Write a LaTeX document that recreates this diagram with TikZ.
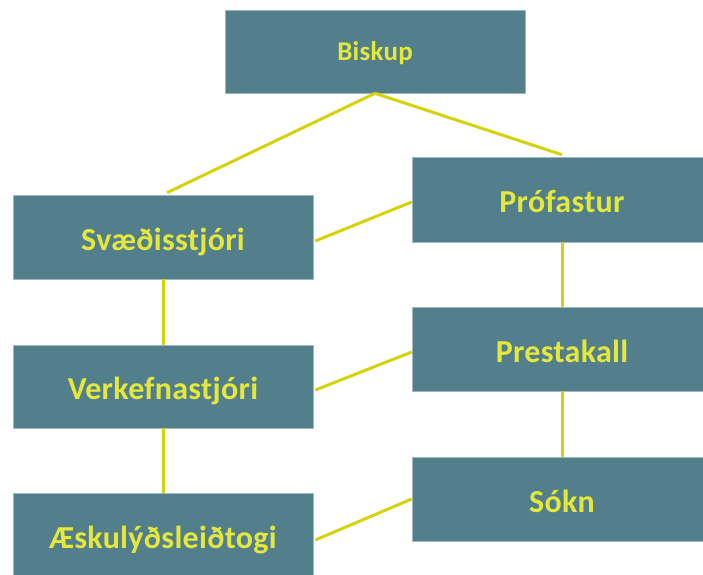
\documentclass[tikz,border=0pt]{standalone}
\usepackage{fontspec}
\setmainfont{Carlito}[LetterSpace=1]
\definecolor{boxfill}{HTML}{537F8C}
\definecolor{boxline}{HTML}{9DB8C0}
\definecolor{txt}{HTML}{E4E83C}
\definecolor{conn}{HTML}{D6D20A}
\tikzset{
  orgbox/.style={draw=boxline, line width=0.6pt, fill=boxfill, text=txt,
    font=\bfseries\fontsize{32}{34}\selectfont, minimum width=300pt, minimum height=84pt,
    inner sep=0pt, anchor=center, text depth=0pt, text height=26.6pt},
  link/.style={draw=conn, line width=3pt}
}
\begin{document}
\begin{tikzpicture}[x=1pt,y=-1pt]
\useasboundingbox (0,0) rectangle (703,574);
\node[orgbox, minimum height=83pt, font=\bfseries\fontsize{27}{29}\selectfont, text height=17.5pt] (bis) at (375,51.5) {Biskup};
\node[orgbox, minimum height=85pt] (prof) at (562,199.5) {Prófastur};
\node[orgbox] (sv) at (163,237) {Svæðisstjóri};
\node[orgbox] (prest) at (562,349) {Prestakall};
\node[orgbox, minimum height=83pt] (verk) at (163,386.5) {Verkefnastjóri};
\node[orgbox] (sokn) at (562,499) {Sókn};
\node[orgbox] (aesk) at (163,535) {Æskulýðsleiðtogi};
\draw[link] (bis.south) -- ([xshift=4pt,yshift=2pt]sv.north);
\draw[link] (bis.south) -- ([yshift=2pt]prof.north);
\draw[link] ([xshift=2pt,yshift=-4pt]sv.east) -- ([yshift=-2.5pt]prof.west);
\draw[link] (prof.south) -- (prest.north);
\draw[link] (sv.south) -- (verk.north);
\draw[link] ([xshift=2pt,yshift=-3.5pt]verk.east) -- ([yshift=-3pt]prest.west);
\draw[link] (prest.south) -- (sokn.north);
\draw[link] (verk.south) -- (aesk.north);
\draw[link] ([xshift=2pt,yshift=-5pt]aesk.east) -- (sokn.west);
\end{tikzpicture}
\end{document}
